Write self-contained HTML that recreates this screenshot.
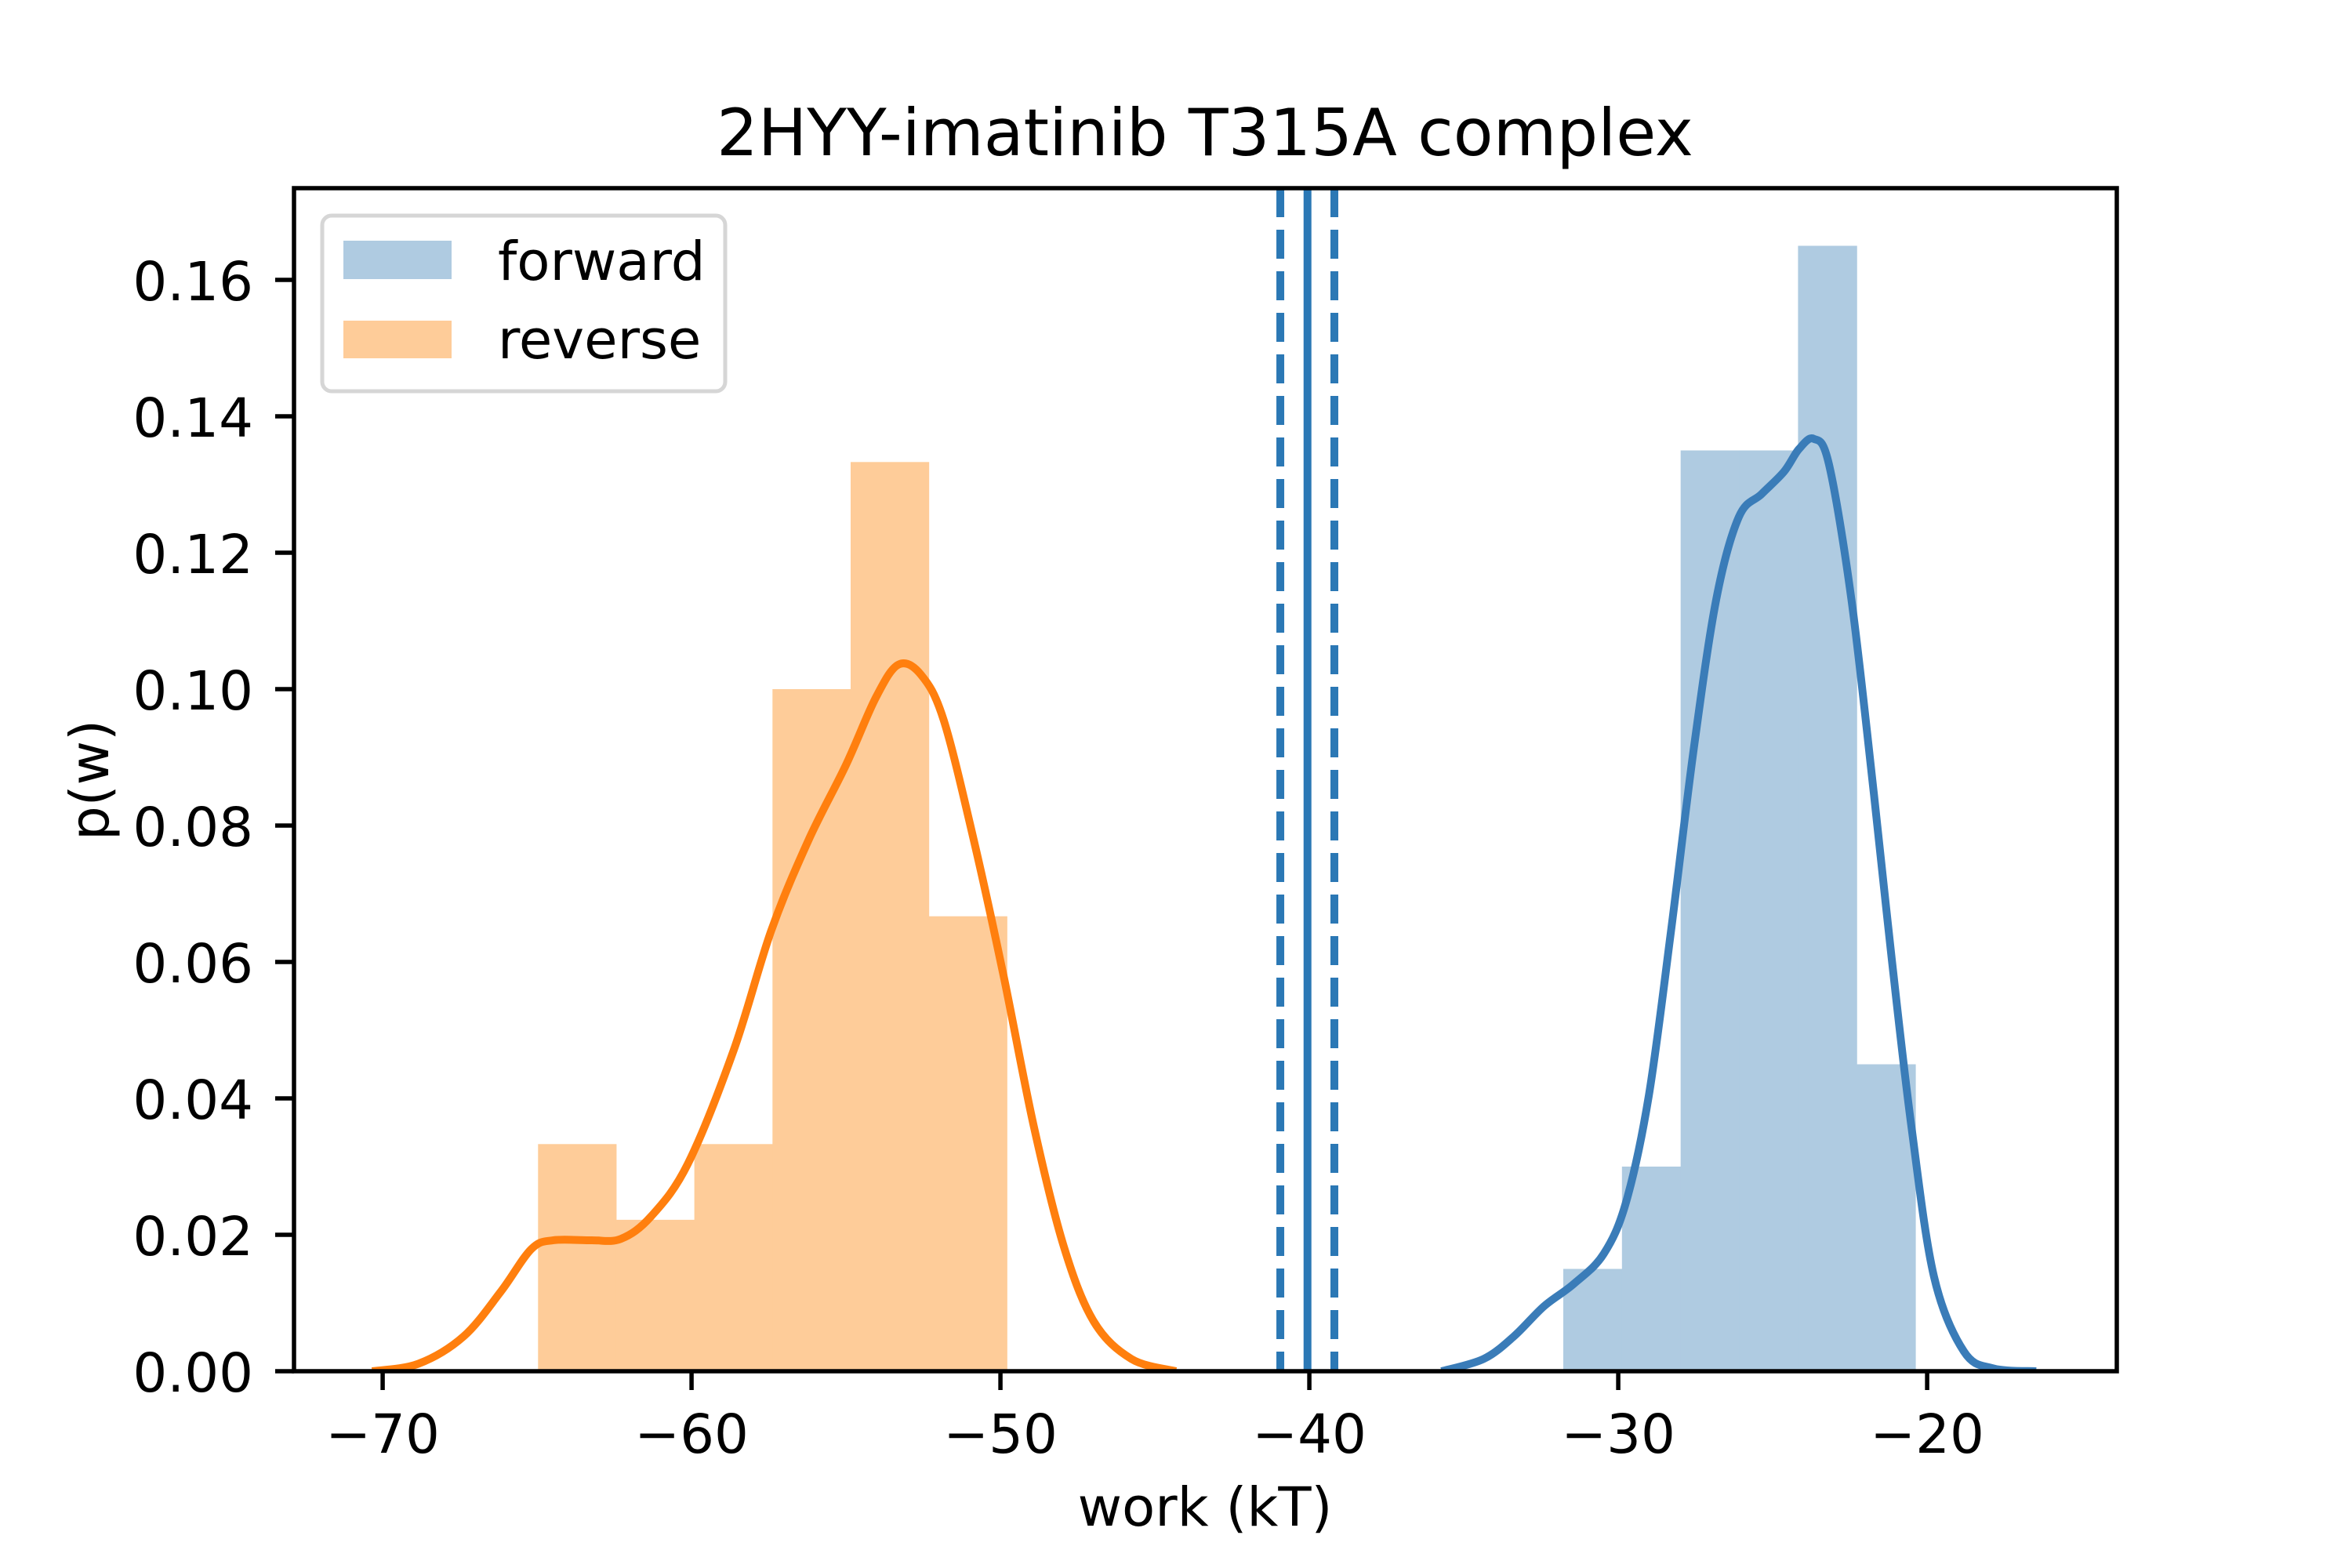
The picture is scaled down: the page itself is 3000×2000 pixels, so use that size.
<!DOCTYPE html>
<html><head><meta charset="utf-8"><style>
html,body{margin:0;padding:0;background:#fff;}
svg{display:block;font-family:"DejaVu Sans","Liberation Sans",sans-serif;}
</style></head><body>
<svg id="chart" width="3000" height="2000" viewBox="0 0 3000 2000" xmlns="http://www.w3.org/2000/svg">
<rect x="0" y="0" width="3000" height="2000" fill="#fff"/>
<defs><clipPath id="clip"><rect x="375" y="240" width="2325" height="1509"/></clipPath></defs>
<g id="plot" clip-path="url(#clip)"></g>
<g id="axes"></g>
<text x="1537" y="198" font-size="83" text-anchor="middle">2HYY-imatinib T315A complex</text>
<text x="1537" y="1946" font-size="69" text-anchor="middle">work (kT)</text>
<text x="138" y="995" font-size="69" text-anchor="middle" transform="rotate(-90 138 995)">p(w)</text>
<g>
<rect x="411" y="275" width="514" height="224" rx="12" fill="#fff" fill-opacity="0.8" stroke="#d6d6d6" stroke-width="5"/>
<rect x="438" y="307" width="138" height="49" fill="#afcbe1"/>
<text x="635" y="357" font-size="69">forward</text>
<rect x="438" y="409" width="138" height="48" fill="#fecc99"/>
<text x="635" y="457" font-size="69">reverse</text>
</g>
</svg>
<script>
const xTicks = [-70, -60, -50, -40, -30, -20];
const xTickLabels = ["\u221270", "\u221260", "\u221250", "\u221240", "\u221230", "\u221220"];
const yTicks = [0, 0.02, 0.04, 0.06, 0.08, 0.10, 0.12, 0.14, 0.16];
const yTickLabels = ["0.00", "0.02", "0.04", "0.06", "0.08", "0.10", "0.12", "0.14", "0.16"];
const reverseEdges = [-64.97, -62.44, -59.91, -57.38, -54.85, -52.32, -49.79];
const reverseHeights = [0.0333, 0.0222, 0.0333, 0.1, 0.1333, 0.0667];
const forwardEdges = [-31.78, -29.88, -27.98, -26.08, -24.18, -22.28, -20.38];
const forwardHeights = [0.015, 0.030, 0.135, 0.135, 0.165, 0.045];
const reverseKdeX = [-70.34, -68.84, -67.38, -66.17, -65.19, -64.47, -63.26, -62.29, -61.31, -60.12, -58.64, -57.42, -56.22, -55.00, -54.03, -53.30, -52.57, -51.84, -50.86, -49.90, -48.92, -47.95, -46.98, -45.76, -44.32];
const reverseKdeY = [0, 0.0011, 0.0051, 0.0117, 0.0179, 0.0192, 0.0192, 0.0194, 0.0227, 0.0304, 0.047, 0.0646, 0.0778, 0.0889, 0.0988, 0.1036, 0.1021, 0.0955, 0.0778, 0.058, 0.0359, 0.0183, 0.0073, 0.0018, 0];
const forwardKdeX = [-35.72, -34.36, -33.38, -32.41, -31.44, -30.47, -29.74, -29.01, -28.29, -27.56, -26.83, -26.10, -25.36, -24.63, -24.15, -23.67, -23.18, -22.45, -21.72, -21.14, -20.51, -19.78, -18.81, -17.84, -16.47];
const forwardKdeY = [0, 0.0018, 0.0051, 0.0095, 0.0128, 0.0172, 0.0249, 0.0404, 0.0646, 0.0911, 0.1131, 0.1252, 0.1286, 0.1319, 0.1352, 0.1367, 0.133, 0.1131, 0.0845, 0.0602, 0.0359, 0.0139, 0.0029, 0.0004, 0];
const estimateLines = [-40.94, -40.06, -39.19];
const estimateDashed = [true, false, true];

const NS = "http://www.w3.org/2000/svg";
const L = 375, R = 2700, T = 240, B = 1749;
const xMin = -72.87, xMax = -13.86, yMin = 0, yMax = 0.17345;
function sx(v){ return L + (v - xMin) / (xMax - xMin) * (R - L); }
function sy(v){ return B - (v - yMin) / (yMax - yMin) * (B - T); }
function mk(tag, attrs, parent){ const e = document.createElementNS(NS, tag); for (const k in attrs) e.setAttribute(k, attrs[k]); parent.appendChild(e); return e; }
const plot = document.getElementById('plot');
const axes = document.getElementById('axes');

for (let i = 0; i < reverseHeights.length; i++) {
  const r = mk('rect', {x: sx(reverseEdges[i]), y: sy(reverseHeights[i]), width: sx(reverseEdges[i+1]) - sx(reverseEdges[i]) + 0.5, height: sy(0) - sy(reverseHeights[i]), fill: '#fecc99'}, plot);
  
  
}
for (let i = 0; i < forwardHeights.length; i++) {
  const r = mk('rect', {x: sx(forwardEdges[i]), y: sy(forwardHeights[i]), width: sx(forwardEdges[i+1]) - sx(forwardEdges[i]) + 0.5, height: sy(0) - sy(forwardHeights[i]), fill: '#afcbe1'}, plot);
  
  
}
function curve(xs, ys){
  const p = xs.map((x, i) => [sx(x), sy(ys[i])]);
  let d = 'M' + p[0][0] + ',' + p[0][1];
  for (let i = 0; i < p.length - 1; i++) {
    const p0 = p[Math.max(0, i-1)], p1 = p[i], p2 = p[i+1], p3 = p[Math.min(p.length-1, i+2)];
    const c1x = p1[0] + (p2[0]-p0[0])/6, c1y = p1[1] + (p2[1]-p0[1])/6;
    const c2x = p2[0] - (p3[0]-p1[0])/6, c2y = p2[1] - (p3[1]-p1[1])/6;
    d += ' C' + c1x + ',' + c1y + ' ' + c2x + ',' + c2y + ' ' + p2[0] + ',' + p2[1];
  }
  return d;
}
const rk = mk('path', {d: curve(reverseKdeX, reverseKdeY), fill: 'none', stroke: '#ff7f0e', 'stroke-width': 10, 'stroke-linejoin': 'round'}, plot);


const fk = mk('path', {d: curve(forwardKdeX, forwardKdeY), fill: 'none', stroke: '#3a7cb8', 'stroke-width': 10, 'stroke-linejoin': 'round'}, plot);


for (let i = 0; i < estimateLines.length; i++) {
  const a = {x1: sx(estimateLines[i]), x2: sx(estimateLines[i]), y1: T, y2: B, stroke: '#2b78b5', 'stroke-width': 10};
  if (estimateDashed[i]) a['stroke-dasharray'] = '37 16';
  const ln = mk('line', a, plot);
  
  
}
const frame = mk('rect', {x: L, y: T, width: R - L, height: B - T, fill: 'none', stroke: '#000', 'stroke-width': 5.5}, axes);


for (let i = 0; i < xTicks.length; i++) {
  const x = sx(xTicks[i]);
  const t = mk('line', {x1: x, x2: x, y1: B, y2: B + 24, stroke: '#000', 'stroke-width': 5.5}, axes);
  
  
  const lb = mk('text', {x: x, y: 1853, 'font-size': 69, 'text-anchor': 'middle'}, axes);
  lb.textContent = xTickLabels[i];
  
  
}
for (let i = 0; i < yTicks.length; i++) {
  const y = sy(yTicks[i]);
  const t = mk('line', {x1: L - 24, x2: L, y1: y, y2: y, stroke: '#000', 'stroke-width': 5.5}, axes);
  
  
  const lb = mk('text', {x: 323, y: y + 26, 'font-size': 69, 'text-anchor': 'end'}, axes);
  lb.textContent = yTickLabels[i];
  
  
}
</script>
</body></html>
